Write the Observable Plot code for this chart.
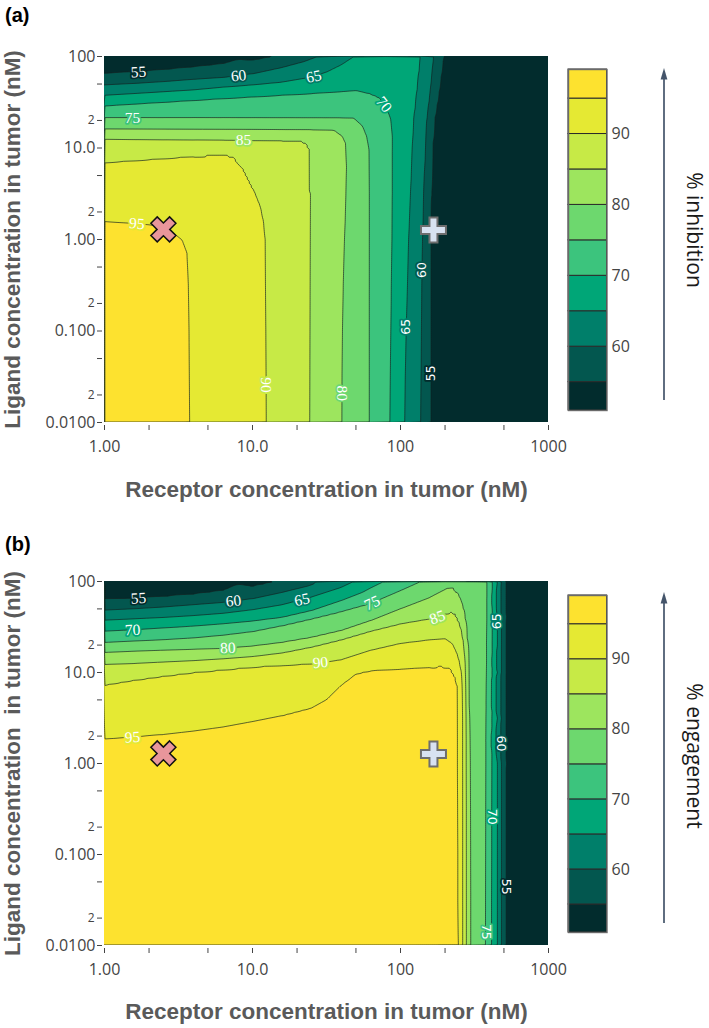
<!DOCTYPE html>
<html><head><meta charset="utf-8">
<script src="https://cdn.jsdelivr.net/npm/d3@7"></script>
<script src="https://cdn.jsdelivr.net/npm/@observablehq/plot@0.6"></script>
<style>
body{margin:0;background:#fff;}
#page{position:relative;width:709px;height:1028px;overflow:hidden;background:#fff;font-family:"Open Sans",sans-serif;}
#page svg{position:absolute;}
.tag{position:absolute;left:5px;font:bold 20px/20px "Liberation Sans",Arial,sans-serif;color:#000;}
.cbtitle{position:absolute;writing-mode:vertical-rl;font:21px "Open Sans",sans-serif;color:#1a1a1a;white-space:nowrap;transform:translate(-50%,-50%);}
</style></head><body><div id="page"></div>
<script>
// ---------- shared scales / ticks ----------
const levels = [55, 60, 65, 70, 75, 80, 85, 90, 95];
const bandFloors = [50, 55, 60, 65, 70, 75, 80, 85, 90, 95];
const bandColors = ["#022c2d", "#03574f", "#007f6a", "#00a677", "#3cc47d", "#6dd86e", "#9de55e", "#c7ea46", "#e5e933", "#fde22f"];
const colorbarRange = [51.0, 99.1];
const colorbarTicks = [60, 70, 80, 90];
const xTicks = [1, 2, 5, 10, 20, 50, 100, 200, 500, 1000];
const xTickLabels = ["1.00", "2", "5", "10.0", "2", "5", "100", "2", "5", "1000"];
const yTicks = [0.01, 0.02, 0.05, 0.1, 0.2, 0.5, 1, 2, 5, 10, 20, 50, 100];
const yTickLabels = ["0.0100", "2", "5", "0.100", "2", "5", "1.00", "2", "5", "10.0", "2", "5", "100"];

// ---------- panel (a): % inhibition ----------
// contour lines, points as [log10 receptor nM, log10 ligand nM]
const inh95 = [[0,0.195],[0.2,0.175],[0.31,0.158],[0.41,0.12],[0.466,0.068],[0.523,-0.006],[0.556,-0.15],[0.565,-0.5],[0.57,-1],[0.572,-1.5],[0.574,-2]];
const inh90 = [[0,0.84],[0.2,0.862],[0.4,0.885],[0.6,0.908],[0.805,0.934],[0.873,0.898],[0.94,0.76],[1.008,0.541],[1.053,0.359],[1.076,0.177],[1.085,0],[1.088,-0.5],[1.091,-1],[1.093,-1.5],[1.094,-2]];
const inh85 = [[0,1.095],[0.2,1.093],[0.4,1.091],[0.6,1.089],[0.8,1.087],[1.0,1.085],[1.2,1.083],[1.324,1.08],[1.365,1.05],[1.387,0.978],[1.392,0.5],[1.391,0],[1.39,-0.5],[1.389,-1],[1.388,-1.5],[1.387,-2]];
const inh80 = [[0,1.208],[0.2,1.207],[0.4,1.206],[0.6,1.205],[0.8,1.204],[1.0,1.203],[1.2,1.201],[1.4,1.2],[1.55,1.197],[1.606,1.13],[1.629,1.051],[1.636,0.796],[1.632,0.5],[1.622,0],[1.613,-0.5],[1.608,-1],[1.605,-1.5],[1.604,-2]];
const inh75 = [[0,1.332],[0.2,1.332],[0.4,1.331],[0.6,1.331],[0.8,1.33],[1.0,1.329],[1.2,1.328],[1.4,1.327],[1.6,1.326],[1.685,1.324],[1.742,1.24],[1.771,1.124],[1.787,0.978],[1.789,0.5],[1.789,0],[1.789,-0.5],[1.789,-1],[1.789,-1.5],[1.789,-2]];
const inh70 = [[0,1.459],[0.2,1.48],[0.4,1.5],[0.6,1.52],[0.8,1.54],[1.0,1.558],[1.2,1.577],[1.4,1.595],[1.6,1.615],[1.7,1.627],[1.775,1.597],[1.854,1.543],[1.906,1.433],[1.933,1.324],[1.945,1.124],[1.945,1.0],[1.945,0.5],[1.943,0],[1.938,-0.5],[1.935,-1],[1.932,-1.5],[1.929,-2]];
const inh65 = [[0,1.576],[0.2,1.595],[0.4,1.615],[0.6,1.635],[0.8,1.665],[1.0,1.69],[1.2,1.72],[1.4,1.775],[1.5,1.83],[1.6,1.91],[1.685,2.0]];
const inh65b = [[2.136,2.0],[2.11,1.6],[2.09,1.3],[2.08,1.0],[2.068,0.5],[2.055,0],[2.047,-0.5],[2.038,-1],[2.032,-1.5],[2.028,-2]];
const inh60 = [[0,1.689],[0.2,1.705],[0.4,1.725],[0.6,1.75],[0.8,1.77],[1.0,1.81],[1.2,1.88],[1.35,1.945],[1.44,2.0]];
const inh60b = [[2.224,2.0],[2.2,1.6],[2.178,1.3],[2.17,1.0],[2.157,0.5],[2.15,0],[2.145,-0.5],[2.142,-1],[2.139,-1.5],[2.137,-2]];
const inh55 = [[0,1.816],[0.2,1.83],[0.4,1.855],[0.6,1.885],[0.8,1.92],[1.0,1.955],[1.14,2.0]];
const inh55b = [[2.292,2.0],[2.26,1.6],[2.23,1.3],[2.218,1.0],[2.208,0.5],[2.205,0],[2.204,-0.5],[2.204,-1],[2.204,-1.5],[2.204,-2]];
// plateau samples [log10 x, log10 y, % inhibition]
const inhPlateau = [[0,-2,98],[0,-1,98],[0,-0.3,98],[0.3,-2,98],[0.3,-1,98],[0.3,-0.3,98],[0,2,52],[0.5,2,53],[0.9,2,54],[1.9,2,68.5],[1.95,1.8,69],
  [2.4,-2,51],[2.4,-1,51],[2.4,0,51],[2.4,1,51],[2.4,1.6,51],[2.45,2,51],[2.7,-2,51],[2.7,0,51],[2.7,2,51],[3,-2,51],[3,-1,51],[3,0,51],[3,1,51],[3,2,51]];
// contour labels [level, log10 x, log10 y, angle]
const inhLabels = [[55,0.229,1.83,-3],[60,0.906,1.79,-6],[65,1.414,1.78,-12],[70,1.888,1.475,52],[75,0.189,1.332,0],[85,0.94,1.087,0],[95,0.218,0.173,4],[90,1.093,-1.59,90],[80,1.605,-1.68,90]];
const inhSideLabels = [[60,2.146,-0.334,-90],[65,2.04,-0.953,-90],[55,2.204,-1.462,-90]];

// ---------- panel (b): % engagement ----------
const eng95 = [[0,0.267],[0.2,0.29],[0.4,0.318],[0.6,0.355],[0.8,0.4],[1.0,0.46],[1.2,0.525],[1.4,0.61],[1.5,0.7],[1.6,0.86],[1.7,0.985],[1.8,1.02],[2.0,1.037],[2.2,1.055],[2.271,1.072],[2.33,1.05],[2.365,0.98],[2.38,0.9],[2.387,0.8],[2.39,0.65],[2.391,0.5],[2.392,0.25],[2.392,0],[2.394,-0.5],[2.395,-1],[2.395,-1.5],[2.396,-2]];
const eng90 = [[0,0.861],[0.2,0.915],[0.4,0.96],[0.6,1.0],[0.8,1.03],[1.0,1.06],[1.2,1.08],[1.4,1.095],[1.6,1.14],[1.8,1.245],[2.0,1.32],[2.2,1.36],[2.3,1.372],[2.351,1.319],[2.38,1.22],[2.398,1.12],[2.407,1.05],[2.413,0.98],[2.416,0.9],[2.418,0.8],[2.419,0.65],[2.42,0.5],[2.42,0.25],[2.42,0],[2.42,-0.5],[2.42,-1],[2.42,-1.5],[2.42,-2]];
const eng85 = [[0,1.088],[0.2,1.1],[0.4,1.115],[0.6,1.13],[0.8,1.15],[1.0,1.175],[1.2,1.215],[1.4,1.28],[1.6,1.36],[1.8,1.455],[2.0,1.535],[2.2,1.59],[2.3,1.64],[2.339,1.667],[2.37,1.64],[2.395,1.557],[2.415,1.45],[2.428,1.3],[2.434,1.2],[2.437,1.1],[2.439,0.98],[2.44,0.9],[2.441,0.8],[2.442,0.65],[2.443,0.5],[2.444,0.25],[2.444,0],[2.445,-0.5],[2.445,-1],[2.445,-1.5],[2.445,-2]];
const eng80 = [[0,1.22],[0.2,1.235],[0.4,1.245],[0.6,1.255],[0.8,1.264],[1.0,1.29],[1.2,1.33],[1.4,1.385],[1.6,1.46],[1.8,1.57],[2.0,1.7],[2.2,1.825],[2.317,1.923],[2.355,1.93],[2.385,1.868],[2.41,1.78],[2.43,1.667],[2.445,1.5],[2.454,1.3],[2.457,1.2],[2.459,1.1],[2.461,0.98],[2.462,0.9],[2.463,0.8],[2.464,0.65],[2.465,0.5],[2.466,0.25],[2.467,0],[2.468,-0.5],[2.469,-1],[2.47,-1.5],[2.47,-2]];
const eng75 = [[0,1.33],[0.2,1.345],[0.4,1.36],[0.6,1.38],[0.8,1.41],[1.0,1.45],[1.2,1.515],[1.4,1.59],[1.6,1.67],[1.8,1.76],[2.0,1.9],[2.137,2.0]];
const eng75b = [[2.585,2.0],[2.585,1.8],[2.585,1.6],[2.584,1.3],[2.584,1.1],[2.583,0.9],[2.582,0.65],[2.581,0.5],[2.58,0.25],[2.58,0],[2.579,-0.5],[2.578,-1],[2.577,-1.5],[2.576,-2]];
const eng70 = [[0,1.454],[0.2,1.47],[0.4,1.49],[0.6,1.51],[0.8,1.535],[1.0,1.565],[1.2,1.605],[1.4,1.68],[1.6,1.79],[1.8,1.93],[1.888,2.0]];
const eng70b = [[2.62,2.0],[2.62,1.6],[2.619,1.3],[2.618,1.0],[2.617,0.5],[2.617,0],[2.616,-0.5],[2.616,-1],[2.615,-1.5],[2.615,-2]];
const eng65 = [[0,1.575],[0.2,1.59],[0.4,1.605],[0.6,1.625],[0.8,1.65],[1.0,1.69],[1.2,1.745],[1.4,1.83],[1.6,1.935],[1.685,2.0]];
const eng65b = [[2.655,2.0],[2.655,1.6],[2.655,1.3],[2.655,1.0],[2.655,0.5],[2.655,0],[2.655,-0.5],[2.655,-1],[2.655,-1.5],[2.655,-2]];
const eng60 = [[0,1.685],[0.2,1.7],[0.4,1.72],[0.6,1.745],[0.8,1.77],[1.0,1.81],[1.2,1.88],[1.4,1.96],[1.437,2.0]];
const eng60b = [[2.682,2.0],[2.682,1.6],[2.682,1.3],[2.682,1.0],[2.682,0.5],[2.682,0],[2.682,-0.5],[2.682,-1],[2.682,-1.5],[2.682,-2]];
const eng55 = [[0,1.806],[0.2,1.813],[0.4,1.835],[0.6,1.86],[0.8,1.9],[1.0,1.945],[1.155,2.0]];
const eng55b = [[2.71,2.0],[2.71,1.6],[2.71,1.3],[2.71,1.0],[2.71,0.5],[2.71,0],[2.71,-0.5],[2.71,-1],[2.71,-1.5],[2.71,-2]];
const engPlateau = [[0,-2,98],[0,-1,98],[0,0,98],[0.8,-2,98],[0.8,-1,98],[0.8,0,98],[1.6,-2,98],[1.6,-1,98],[1.6,0,98],[1.6,0.5,98],[2.1,-2,98],[2.1,-1,98],[2.1,0,98],[2.1,0.8,98],
  [0,2,52],[0.5,2,53],[0.9,2,54],[2.3,2,79],[2.52,2,77.5],
  [2.8,2,51],[2.8,1.3,51],[2.8,0.5,51],[2.8,-0.5,51],[2.8,-1.5,51],[2.8,-2,51],[3,2,51],[3,0,51],[3,-2,51]];
const engLabels = [[55,0.229,1.815,-3],[60,0.872,1.785,-6],[65,1.335,1.8,-12],[75,1.809,1.765,-25],[85,2.249,1.605,-20],[70,0.189,1.468,-2],[80,0.834,1.268,-2],[90,1.459,1.108,-5],[95,0.189,0.288,-3]];
const engSideLabels = [[65,2.655,1.564,-90],[60,2.682,0.22,90],[70,2.617,-0.586,90],[55,2.71,-1.355,90],[75,2.577,-1.85,90]];

// ---------- markers (nM) ----------
const crossMarker = [{receptor: 2.5, ligand: 1.29}];
const plusMarker = [{receptor: 167, ligand: 1.27}];

// ---------- helpers ----------
const eps = 0.01; // contour cut sits just below each level so flat areas at a level stay inside
const thresholds = bandFloors.map((d) => d - eps);
const colorScale = {type: "threshold", domain: levels.map((d) => d - eps), range: bandColors};
const plusSymbol = {draw(ctx, size) {
  const a = Math.sqrt(size / Math.PI), t = a * 0.32;
  ctx.moveTo(-t, -a); ctx.lineTo(t, -a); ctx.lineTo(t, -t); ctx.lineTo(a, -t); ctx.lineTo(a, t); ctx.lineTo(t, t);
  ctx.lineTo(t, a); ctx.lineTo(-t, a); ctx.lineTo(-t, t); ctx.lineTo(-a, t); ctx.lineTo(-a, -t); ctx.lineTo(-t, -t); ctx.closePath();
}};
const crossSymbol = {draw(ctx, size) {
  const a = Math.sqrt(size / Math.PI), t = a * 0.34, c = Math.SQRT1_2;
  const pts = [[-t,-a],[t,-a],[t,-t],[a,-t],[a,t],[t,t],[t,a],[-t,a],[-t,t],[-a,t],[-a,-t],[-t,-t]]
    .map(([x, y]) => [c * (x - y), c * (x + y)]);
  ctx.moveTo(pts[0][0], pts[0][1]); for (const p of pts.slice(1)) ctx.lineTo(p[0], p[1]); ctx.closePath();
}};
const tickLabel = (ticks, labels) => (d) => labels[ticks.indexOf(d)];
const xMajor = xTicks.filter((d, i) => xTickLabels[i].length > 1), xMinor = xTicks.filter((d, i) => xTickLabels[i].length === 1);
const yMajor = yTicks.filter((d, i) => yTickLabels[i].length > 1), yMinor = yTicks.filter((d, i) => yTickLabels[i].length === 1);

function panel({lines, plateau, labels, sideLabels, height, marginTop, marginBottom, yTitle, xTitleDy}) {
  const samples = [];
  for (const [level, pts] of lines) for (const [u, v] of pts) samples.push({x: 10 ** u, y: 10 ** v, value: level});
  for (const [u, v, val] of plateau) samples.push({x: 10 ** u, y: 10 ** v, value: val});
  const toLab = ([level, u, v, angle]) => ({level, x: 10 ** u, y: 10 ** v, angle});
  const lab = labels.map(toLab), side = sideLabels.map(toLab);
  const labelStyle = {x: "x", y: "y", text: (d) => String(d.level), rotate: "angle", fill: "white",
    stroke: (d) => d.level - 2.5, strokeWidth: 3.5, paintOrder: "stroke"};
  const titleStyle = {text: (d) => d, fontSize: 22.5, fontWeight: "bold", fontFamily: "'Liberation Sans', Arial, sans-serif", fill: "#5a5a5a", textAnchor: "middle", lineAnchor: "middle"};
  return Plot.plot({
    width: 560, height, marginLeft: 104, marginRight: 12, marginTop, marginBottom,
    style: {fontFamily: "'Open Sans', sans-serif", background: "transparent", overflow: "visible"},
    x: {type: "log", domain: [1, 1000]},
    y: {type: "log", domain: [0.01, 100]},
    color: colorScale,
    marks: [
      Plot.contour(samples, {x: "x", y: "y", value: "value", fill: "value", thresholds, interpolate: "barycentric",
        stroke: "#142020", strokeWidth: 0.8, strokeOpacity: 0.85, x1: 0.85, x2: 1200, y1: 130, y2: 0.0077, clip: true}),
      Plot.text(lab, {...labelStyle, fontFamily: "'Liberation Serif', serif", fontSize: 15.5}),
      Plot.text(side, {...labelStyle, fontFamily: "'DejaVu Sans', sans-serif", fontSize: 12.5}),
      Plot.dot(crossMarker, {x: "receptor", y: "ligand", symbol: crossSymbol, r: 13.2, fill: "#e8969b", stroke: "#111", strokeWidth: 1.5}),
      Plot.dot(plusMarker, {x: "receptor", y: "ligand", symbol: plusSymbol, r: 12.5, fill: "#d8e2f1", stroke: "#6e6e6e", strokeWidth: 2}),
      Plot.axisX(xMajor, {tickFormat: tickLabel(xTicks, xTickLabels), tickSize: 5, tickPadding: 10, dy: 3, fontSize: 16, color: "#444", label: null}),
      Plot.axisX(xMinor, {tickFormat: tickLabel(xTicks, xTickLabels), tickSize: 5, tickPadding: 10, dy: 3, fontSize: 12, color: "#444", label: null}),
      Plot.axisY(yMajor, {tickFormat: tickLabel(yTicks, yTickLabels), tickSize: 5, tickPadding: 2, dx: -2, fontSize: 16, color: "#444", label: null}),
      Plot.axisY(yMinor, {tickFormat: tickLabel(yTicks, yTickLabels), tickSize: 5, tickPadding: 3, dx: -2, fontSize: 12, color: "#444", label: null}),
      Plot.text(["Receptor concentration in tumor (nM)"], {...titleStyle, frameAnchor: "bottom", dy: xTitleDy}),
      Plot.text([yTitle], {...titleStyle, frameAnchor: "left", dx: -92, rotate: -90})
    ]
  });
}

function colorbar(frameHeight) {
  return Plot.plot({
    width: 149, height: frameHeight + 20, marginTop: 10, marginBottom: 10, marginLeft: 8, marginRight: 102.5,
    style: {fontFamily: "'Open Sans', sans-serif", background: "transparent", overflow: "visible"},
    y: {domain: colorbarRange, clamp: true},
    color: colorScale,
    marks: [
      Plot.rect(bandFloors, {y1: (d) => d, y2: (d) => d + 5, fill: (d) => d, stroke: "#2a2a2a", strokeWidth: 1}),
      Plot.frame({stroke: "#6a6a6a", strokeWidth: 1.4}),
      Plot.axisY(colorbarTicks, {anchor: "right", tickSize: 0, tickPadding: 4.5, fontSize: 16, color: "#444", label: null})
    ]
  });
}

function place(el, left, top) { el.style.left = left + "px"; el.style.top = top + "px"; page.appendChild(el); return el; }
function arrow(left, top, length) {
  const ns = "http://www.w3.org/2000/svg";
  const svg = document.createElementNS(ns, "svg");
  svg.setAttribute("width", 20); svg.setAttribute("height", length + 2);
  svg.innerHTML = `<line x1="10" y1="10" x2="10" y2="${length}" stroke="#44546a" stroke-width="1.7"/>` +
    `<polygon points="10,0 6.6,11.5 13.4,11.5" fill="#44546a"/>`;
  return place(svg, left, top);
}
function textDiv(cls, text, left, top) { const d = document.createElement("div"); d.className = cls; d.textContent = text; return place(d, left, top); }

const page = document.getElementById("page");

// panel (a)
place(panel({
  lines: [[95, inh95], [90, inh90], [85, inh85], [80, inh80], [75, inh75], [70, inh70], [65, inh65], [65, inh65b], [60, inh60], [60, inh60b], [55, inh55], [55, inh55b]],
  plateau: inhPlateau, labels: inhLabels, sideLabels: inhSideLabels,
  height: 510, marginTop: 56, marginBottom: 88, yTitle: "Ligand concentration in tumor (nM)", xTitleDy: 67
}), 0, 0);
place(colorbar(341), 560, 59);
arrow(654, 68, 332);
textDiv("cbtitle", "% inhibition", 695, 230);
textDiv("tag", "(a)", 5, 5);

// panel (b)
place(panel({
  lines: [[95, eng95], [90, eng90], [85, eng85], [80, eng80], [75, eng75], [75, eng75b], [70, eng70], [70, eng70b], [65, eng65], [65, eng65b], [60, eng60], [60, eng60b], [55, eng55], [55, eng55b]],
  plateau: engPlateau, labels: engLabels, sideLabels: engSideLabels,
  height: 518, marginTop: 71, marginBottom: 83, yTitle: "Ligand concentration\u00a0 in tumor (nM)", xTitleDy: 66
}), 0, 510);
place(colorbar(337), 560, 585);
arrow(654, 592, 331);
textDiv("cbtitle", "% engagement", 695, 756);
textDiv("tag", "(b)", 5, 534);
</script></body></html>
